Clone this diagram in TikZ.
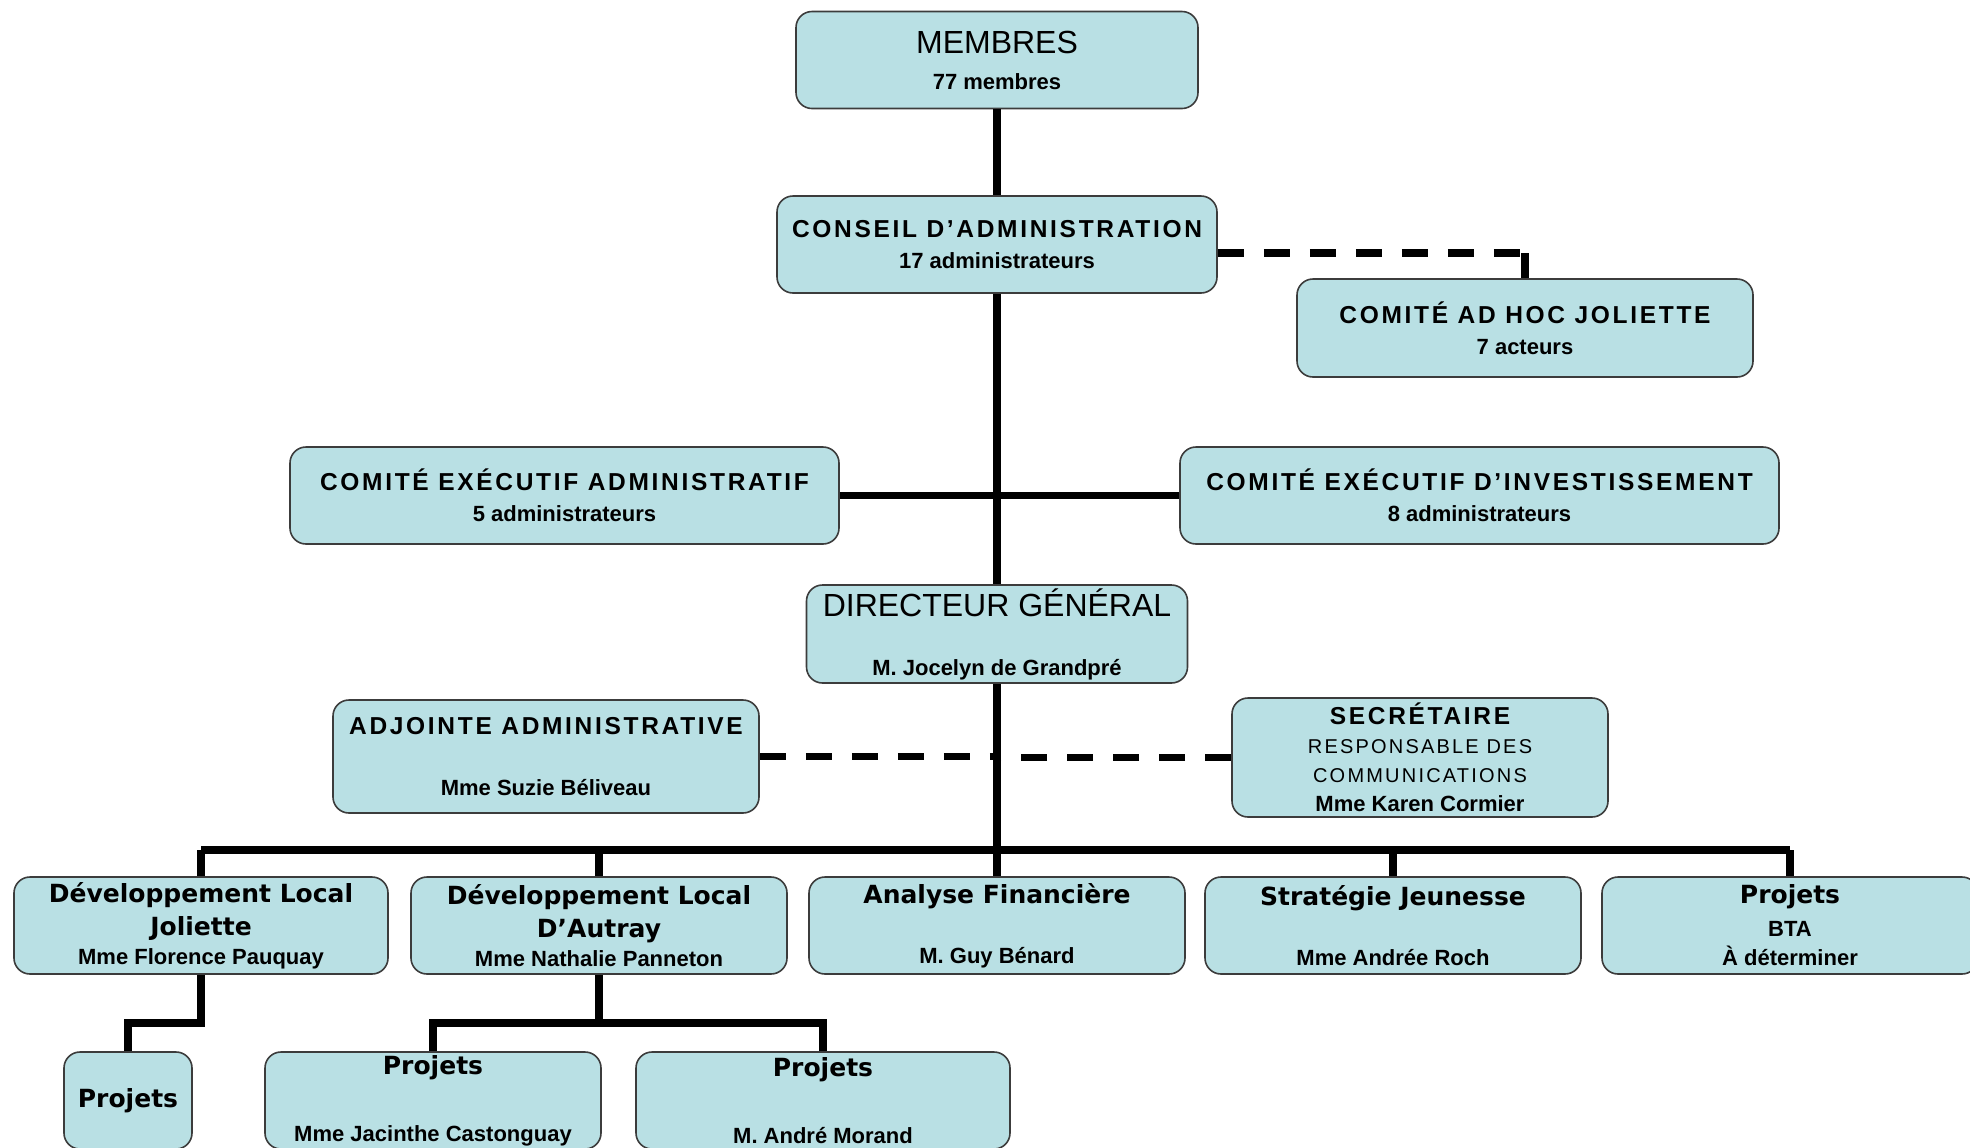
\documentclass[tikz,border=0pt]{standalone}
\usepackage{fontspec}
\setmainfont{Liberation Sans}
\newfontfamily\capsfont[LetterSpace=11]{Liberation Sans}
\newfontfamily\verdfont{DejaVu Sans}
\definecolor{boxfill}{RGB}{185,224,228}
\definecolor{boxedge}{RGB}{60,60,60}
\newcommand{\bigt}[1]{{\fontsize{16}{18}\selectfont #1}}
\newcommand{\capst}[1]{{\capsfont\bfseries\fontsize{12.25}{15.5}\selectfont #1}}
\newcommand{\respt}[1]{{\capsfont\fontsize{10}{15.5}\selectfont #1}}
\newcommand{\subt}[1]{{\bfseries\fontsize{11}{15.5}\selectfont #1}}
\newcommand{\verd}[1]{{\verdfont\bfseries\fontsize{12.5}{15.5}\selectfont #1}}

\begin{document}
\begin{tikzpicture}[x=0.5pt,y=-0.5pt,
    box/.style={draw=boxedge,fill=boxfill,rounded corners=8pt,line width=0.8pt,inner sep=0pt,
      align=center,minimum height=48.5pt,font=\fontsize{11}{15.5}\selectfont},
    link/.style={line width=3.6pt,line join=miter},
    dashlink/.style={line width=3.6pt,dash pattern=on 13pt off 10pt}]
  \useasboundingbox (0,0) rectangle (1970,1147);

  \node[box,minimum width=201pt] (membres) at (997,60) {\bigt{MEMBRES}\\[2.5pt]\subt{77 membres}};
  \node[box,minimum width=220pt] (conseil) at (997,244.5) {\capst{CONSEIL D’ADMINISTRATION}\\\subt{17 administrateurs}};
  \node[box,minimum width=228pt,minimum height=49pt] (adhoc) at (1525,328) {\capst{COMITÉ AD HOC JOLIETTE}\\\subt{7 acteurs}};
  \node[box,minimum width=274.5pt] (cea) at (564.5,495.5) {\capst{COMITÉ EXÉCUTIF ADMINISTRATIF}\\\subt{5 administrateurs}};
  \node[box,minimum width=299.5pt] (cei) at (1479.5,495.5) {\capst{COMITÉ EXÉCUTIF D’INVESTISSEMENT}\\\subt{8 administrateurs}};
  \node[box,minimum width=190.5pt,minimum height=49pt] (dg) at (997,634) {\bigt{DIRECTEUR GÉNÉRAL}\\[14pt]\subt{M. Jocelyn de Grandpré}};
  \node[box,minimum width=213pt,minimum height=56.5pt] (adj) at (546,756.5) {\capst{ADJOINTE ADMINISTRATIVE}\\[15pt]\subt{Mme Suzie Béliveau}};
  \node[box,minimum width=188pt,minimum height=59.5pt] (sec) at (1420,757.5) {\capst{SECRÉTAIRE}\\[-1pt]\respt{RESPONSABLE DES}\\[-1pt]\respt{COMMUNICATIONS}\\[-1pt]\subt{Mme Karen Cormier}};

  \node[box,minimum width=187pt] (dlj) at (201,925.5) {\verd{Développement Local}\\[1pt]\verd{Joliette}\\[-1pt]\subt{Mme Florence Pauquay}};
  \node[box,minimum width=188pt] (dla) at (599,925.5) {\verd{Développement Local}\\[1pt]\verd{D’Autray}\\[-1pt]\subt{Mme Nathalie Panneton}};
  \node[box,minimum width=188pt] (af) at (997,925.5) {\verd{Analyse Financière}\\[14.5pt]\subt{M. Guy Bénard}};
  \node[box,minimum width=188pt] (sj) at (1393,925.5) {\verd{Stratégie Jeunesse}\\[14.5pt]\subt{Mme Andrée Roch}};
  \node[box,minimum width=188pt] (bta) at (1790,925.5) {\verd{Projets}\\[1pt]\subt{BTA}\\[-1pt]\subt{À déterminer}};

  \node[box,minimum width=64pt] (pja) at (128,1100.5) {\verd{Projets}};
  \node[box,minimum width=168pt] (pjb) at (433,1100.5) {\verd{Projets}\\[18pt]\subt{Mme Jacinthe Castonguay}};
  \node[box,minimum width=187pt] (pjc) at (823,1100.5) {\verd{Projets}\\[18pt]\subt{M. André Morand}};

  \coordinate (adhocjoint) at (1525,253);
  \coordinate (bus) at (997,850);
  \coordinate (subbus) at (0,1023);

  \draw[link] (membres) -- (conseil);
  \draw[link] (conseil) -- (dg);
  \draw[link] (cea) -- (cei);
  \draw[dashlink] (conseil.east |- adhocjoint) -- (adhocjoint);
  \draw[link] (adhocjoint) -- (adhoc.north);
  \draw[link] (dg) -- (bus);
  \draw[dashlink] (adj) -- (adj -| dg.south);
  \draw[dashlink] (sec) -- (sec -| dg.south);
  \draw[link] (dlj.north |- bus) -- (bta.north |- bus);
  \foreach \n in {dlj,dla,af,sj,bta}
    \draw[link] (\n.north |- bus) -- (\n.north);
  \draw[link] (dlj) -- (dlj |- subbus) -| (pja);
  \draw[link] (dla) -- (dla |- subbus);
  \draw[link] (pjb) |- (dla |- subbus) -| (pjc);
\end{tikzpicture}
\end{document}
